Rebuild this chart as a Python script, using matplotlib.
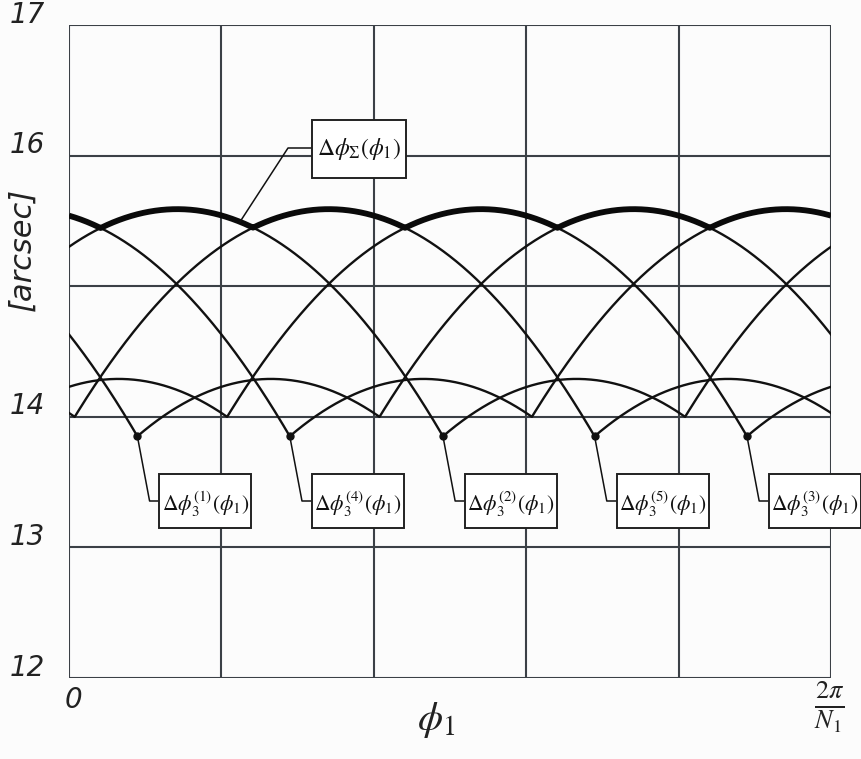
import numpy as np
import matplotlib
matplotlib.use("Agg")
import matplotlib.pyplot as plt
from matplotlib.patches import Rectangle
import matplotlib.transforms as mtransforms

plt.rcParams["mathtext.fontset"] = "stix"

# ---- data -------------------------------------------------------------
# x is expressed as a fraction of one period 2*pi/N1
curve_tags = ["1", "4", "2", "5", "3"]
big_peak_pos = [0.741, 0.941, 0.142, 0.341, 0.541]      # main lobe maxima
small_peak_pos = [0.265, 0.465, 0.666, 0.865, 0.065]    # secondary lobe maxima
big_peak_val = 15.59        # arcsec
small_peak_val = 14.29      # arcsec
lobe_curvature = 14.3       # arcsec per (period)^2

y_grid = [12, 13, 14, 15, 16, 17]
y_labels = [12, 13, 14, 16, 17]
x_grid = [0.0, 0.2, 0.4, 0.6, 0.8, 1.0]

# ---- helpers ----------------------------------------------------------
def wrap(d):
    return (d + 0.5) % 1.0 - 0.5

def lobe(x, pos, peak):
    return peak - lobe_curvature * wrap(x - pos) ** 2

x = np.linspace(0.0, 1.0, 4001)
curves = []
for bp, sp in zip(big_peak_pos, small_peak_pos):
    curves.append(np.maximum(lobe(x, bp, big_peak_val), lobe(x, sp, small_peak_val)))
total = np.max(np.vstack(curves), axis=0)

def junction(bp, sp):
    sep = (sp - bp) % 1.0
    xj = bp + sep / 2 + (big_peak_val - small_peak_val) / (2 * lobe_curvature * sep)
    xj = xj % 1.0
    return xj, lobe(xj, bp, big_peak_val)

# ---- figure -----------------------------------------------------------
fig = plt.figure(figsize=(8.62, 7.59), dpi=100)
fig.patch.set_facecolor("#fcfcfc")
ax = fig.add_axes([69 / 862, 81 / 759, 762 / 862, 653 / 759])
ax.set_facecolor("#fcfcfc")
ax.set_xlim(0, 1)
ax.set_ylim(12, 17)

grid_col = "#3b4046"
for gx in x_grid:
    ax.axvline(gx, color=grid_col, lw=1.5, zorder=1)
for gy in y_grid:
    ax.axhline(gy, color=grid_col, lw=1.5, zorder=1)
for s in ax.spines.values():
    s.set_visible(False)
ax.set_xticks([])
ax.set_yticks([])

for c in curves:
    ax.plot(x, c, color="#111111", lw=1.7, zorder=3)
ax.plot(x, total, color="#0a0a0a", lw=4.2, zorder=4, solid_capstyle="butt")

# ---- y tick labels ----------------------------------------------------
lab_tr = mtransforms.blended_transform_factory(ax.transAxes, ax.transData)
for gy in y_labels:
    ax.text(-0.031, gy + 0.08, str(gy), transform=lab_tr, ha="right", va="center",
            fontsize=20, fontstyle="italic", color="#222222", clip_on=False)

ax.text(-0.062, 15.28, "[arcsec]", transform=lab_tr, rotation=90, ha="center",
        va="center", fontsize=22, fontstyle="italic", color="#222222")

# ---- x labels ---------------------------------------------------------
ax.text(0.006, 11.83, "0", ha="center", va="center", fontsize=20, fontstyle="italic",
        color="#222222", clip_on=False)
ax.text(0.998, 11.78, r"$\frac{2\pi}{N_1}$", ha="center", va="center", fontsize=27,
        color="#222222", clip_on=False)
ax.text(0.482, 11.68, r"$\phi_1$", ha="center", va="center", fontsize=29,
        color="#222222", clip_on=False)

# ---- label for the total curve ---------------------------------------
def px_x(p):
    return (p - 69) / 762

def px_y(p):
    return 17 - (p - 25) / 130.6

sx = px_x(240)
sy = np.interp(sx, x, total)
ax.plot([sx, px_x(288), px_x(312)], [sy, px_y(148), px_y(148)], color="#111111",
        lw=1.1, zorder=5, clip_on=False)
bx0, bx1, by0, by1 = px_x(312), px_x(406), px_y(178), px_y(120)
ax.add_patch(Rectangle((bx0, by0), bx1 - bx0, by1 - by0, fc="white", ec="#222222",
                       lw=1.4, zorder=6, clip_on=False))
ax.text((bx0 + bx1) / 2, (by0 + by1) / 2, r"$\Delta\phi_\Sigma(\phi_1)$", ha="center",
        va="center", fontsize=17, zorder=7, color="#111111")

# ---- labels for the partial curves -----------------------------------
box_w = px_x(252) - px_x(160)
box_top, box_bot = px_y(474), px_y(528)
for tag, bp, sp in zip(curve_tags, big_peak_pos, small_peak_pos):
    xj, yj = junction(bp, sp)
    ax.plot([xj], [yj], marker="o", ms=5, color="#111111", zorder=6)
    left = xj + 0.029
    ymid = (box_top + box_bot) / 2
    ax.plot([xj, xj + 0.016, left], [yj, ymid, ymid], color="#111111", lw=1.1,
            zorder=5, clip_on=False)
    ax.add_patch(Rectangle((left, box_bot), box_w, box_top - box_bot, fc="white",
                           ec="#222222", lw=1.4, zorder=6, clip_on=False))
    ax.text(left + box_w / 2, ymid - 0.02,
            r"$\Delta\phi_3^{(%s)}(\phi_1)$" % tag, ha="center", va="center",
            fontsize=15.5, zorder=7, color="#111111", clip_on=False)

fig.savefig("out.png", dpi=100, facecolor=fig.get_facecolor())
